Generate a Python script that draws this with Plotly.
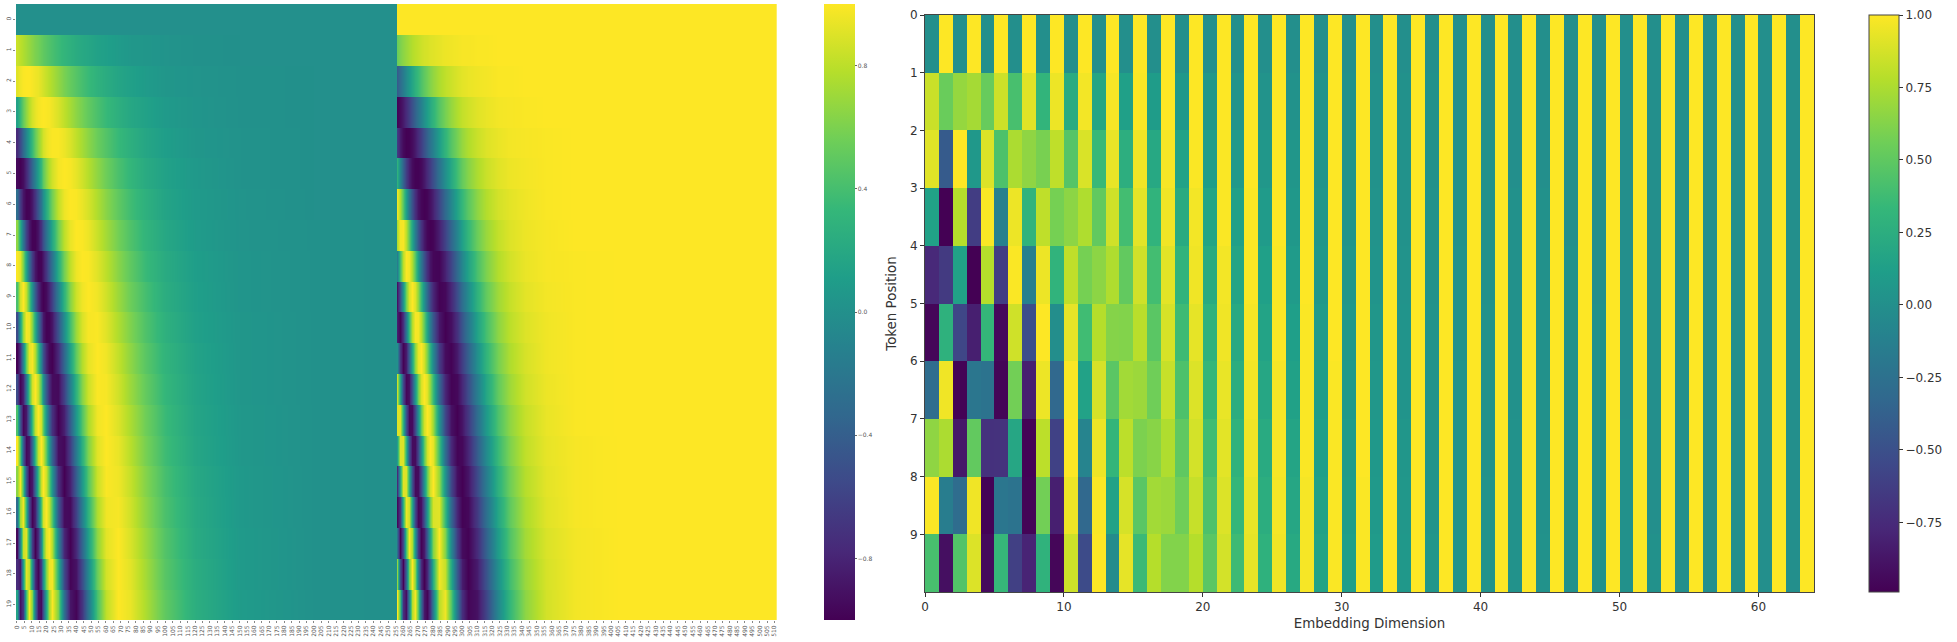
import plotly.graph_objects as go

W, H = 1957, 642

# ---------- left heatmap: values read at selected columns of each half ----------
KNOT_COLUMNS = [0,2,4,6,8,10,12,14,16,18,20,22,24,28,32,36,40,44,48,54,60,68,76,86,100,120,150,200,255]

SIN_00 = [0]*29
COS_00 = [1]*29
SIN_01 = [.84,.80,.76,.72,.68,.64,.60,.57,.53,.50,.47,.44,.41,.36,.31,.27,.23,.20,.18,.14,.12,.09,.06,.05,.03,.01,0,0,0]
COS_01 = [.54,.60,.65,.69,.73,.77,.80,.82,.85,.87,.88,.90,.91,.93,.95,.96,.97,.98,.98,.99,.99,1,1,1,1,1,1,1,1]
SIN_02 = [.91,.96,.99,1,1,.98,.96,.94,.90,.87,.83,.79,.75,.67,.59,.52,.46,.40,.35,.28,.23,.17,.13,.09,.05,.03,.01,0,0]
COS_02 = [-.42,-.29,-.16,-.04,.07,.17,.27,.35,.43,.50,.56,.62,.67,.75,.81,.85,.89,.92,.94,.96,.97,.99,.99,1,1,1,1,1,1]
SIN_03 = [.14,.34,.52,.66,.78,.87,.93,.97,.99,1,.99,.98,.95,.89,.81,.73,.65,.58,.51,.42,.34,.26,.19,.14,.08,.04,.01,0,0]
COS_03 = [-.99,-.94,-.86,-.75,-.63,-.50,-.37,-.24,-.12,0,.11,.21,.30,.46,.58,.68,.76,.82,.86,.91,.94,.97,.98,.99,1,1,1,1,1]
SIN_04 = [-.76,-.55,-.32,-.08,.14,.34,.52,.66,.78,.87,.93,.97,.99,.99,.95,.89,.81,.73,.65,.54,.45,.34,.26,.18,.11,.05,.02,0,0]
COS_04 = [-.65,-.84,-.95,-1,-.99,-.94,-.86,-.75,-.63,-.50,-.37,-.24,-.12,.11,.30,.46,.58,.68,.76,.84,.90,.94,.97,.98,.99,1,1,1,1]
SIN_05 = [-.96,-1,-.93,-.78,-.57,-.34,-.11,.12,.32,.50,.65,.77,.86,.97,1,.98,.93,.86,.78,.66,.55,.42,.32,.22,.14,.07,.02,0,0]
COS_05 = [.28,-.06,-.37,-.63,-.82,-.94,-.99,-.99,-.95,-.87,-.76,-.64,-.51,-.25,-.01,.20,.38,.52,.63,.75,.84,.91,.95,.97,.99,1,1,1,1]
SIN_06 = [-.28,-.64,-.88,-.99,-.98,-.87,-.69,-.46,-.23,0,.22,.41,.57,.81,.95,1,.99,.94,.88,.76,.64,.50,.38,.27,.16,.08,.03,0,0]
COS_06 = [.96,.76,.47,.12,-.21,-.50,-.73,-.89,-.97,-1,-.98,-.91,-.82,-.58,-.32,-.07,.15,.33,.48,.65,.77,.87,.92,.96,.99,1,1,1,1]
SIN_07 = [.66,.23,-.22,-.60,-.86,-.99,-.99,-.89,-.71,-.50,-.26,-.03,.19,.55,.80,.94,1,.99,.95,.84,.72,.57,.44,.31,.19,.09,.03,.01,0]
COS_07 = [.75,.97,.98,.80,.51,.17,-.16,-.46,-.70,-.87,-.97,-1,-.98,-.83,-.60,-.34,-.09,.13,.32,.54,.69,.82,.90,.95,.98,1,1,1,1]
SIN_08 = [.99,.92,.60,.16,-.28,-.64,-.88,-.99,-.98,-.87,-.69,-.46,-.23,.22,.57,.81,.95,1,.99,.91,.80,.64,.50,.35,.22,.11,.04,.01,0]
COS_08 = [-.15,.39,.80,.99,.96,.76,.47,.12,-.21,-.50,-.73,-.89,-.97,-.98,-.82,-.58,-.32,-.07,.15,.41,.60,.77,.87,.94,.98,.99,1,1,1]
SIN_09 = [.41,.87,1,.82,.45,0,-.43,-.75,-.94,-1,-.95,-.81,-.61,-.15,.29,.63,.85,.96,1,.96,.86,.70,.55,.40,.24,.12,.04,.01,0]
COS_09 = [-.91,-.49,.05,.57,.89,1,.90,.66,.34,0,-.32,-.59,-.79,-.99,-.96,-.78,-.53,-.27,-.03,.28,.51,.71,.83,.92,.97,.99,1,1,1]
SIN_10 = [-.54,.12,.68,.97,.94,.64,.21,-.24,-.61,-.87,-.99,-.98,-.88,-.49,-.02,.39,.70,.89,.98,.99,.91,.76,.61,.44,.27,.13,.05,.01,0]
COS_10 = [-.84,-.99,-.73,-.22,.35,.77,.98,.97,.79,.50,.16,-.18,-.47,-.87,-1,-.92,-.72,-.46,-.21,.14,.40,.65,.80,.90,.96,.99,1,1,1]
SIN_11 = [-1,-.73,-.10,.53,.92,.98,.76,.36,-.10,-.50,-.80,-.96,-1,-.77,-.33,.13,.51,.77,.93,1,.96,.82,.66,.48,.30,.15,.05,.01,0]
COS_11 = [0,-.68,-.99,-.85,-.39,.18,.65,.93,1,.86,.60,.27,-.07,-.64,-.94,-.99,-.86,-.63,-.38,-.01,.30,.58,.76,.88,.96,.99,1,1,1]
SIN_12 = [-.54,-.99,-.82,-.24,.41,.87,1,.82,.45,0,-.43,-.75,-.94,-.95,-.61,-.14,.29,.63,.85,.99,.98,.86,.70,.52,.32,.16,.05,.01,0]
COS_12 = [.84,.17,-.57,-.97,-.91,-.49,.06,.57,.89,1,.91,.66,.34,-.32,-.79,-.99,-.96,-.78,-.53,-.15,.18,.51,.71,.86,.95,.99,1,1,1]
SIN_13 = [.42,-.45,-.97,-.87,-.32,.34,.83,1,.86,.50,.05,-.38,-.72,-1,-.83,-.41,.06,.45,.74,.96,1,.90,.75,.56,.35,.17,.06,.01,0]
COS_13 = [.91,.89,.26,-.50,-.95,-.94,-.55,0,.52,.87,1,.92,.70,.04,-.57,-.91,-1,-.89,-.67,-.29,.07,.43,.66,.83,.94,.99,1,1,1]
SIN_14 = [.99,.45,-.43,-.96,-.88,-.34,.33,.82,1,.86,.51,.06,-.37,-.92,-.96,-.64,-.18,.26,.61,.91,1,.94,.79,.59,.37,.18,.06,.01,0]
COS_14 = [.14,.90,.90,.28,-.48,-.94,-.94,-.57,-.02,.50,.86,1,.93,.39,-.28,-.77,-.98,-.96,-.79,-.42,-.05,.35,.61,.81,.93,.98,1,1,1]
SIN_15 = [.65,.98,.41,-.46,-.97,-.87,-.31,.35,.84,1,.85,.49,.04,-.72,-1,-.82,-.40,.06,.46,.84,.99,.96,.83,.63,.40,.20,.07,.01,0]
COS_15 = [-.76,.18,.91,.89,.25,-.50,-.95,-.94,-.55,0,.52,.87,1,.69,.03,-.57,-.92,-1,-.89,-.55,-.16,.27,.56,.78,.92,.98,1,1,1]
SIN_16 = [-.29,.73,.96,.32,-.54,-.99,-.82,-.24,.41,.87,1,.82,.45,-.43,-.94,-.95,-.61,-.14,.29,.75,.96,.98,.86,.66,.42,.21,.07,.01,0]
COS_16 = [-.96,-.69,.28,.95,.84,.17,-.57,-.97,-.91,-.50,.06,.57,.89,.91,.34,-.33,-.79,-.99,-.96,-.66,-.27,.18,.51,.75,.91,.98,1,1,1]
SIN_17 = [-.96,-.11,.83,.91,.18,-.64,-1,-.75,-.13,.50,.91,.99,.77,-.07,-.79,-1,-.78,-.34,.12,.65,.92,1,.89,.70,.45,.22,.08,.01,0]
COS_17 = [-.27,-.99,-.55,.42,.98,.76,.04,-.66,-.99,-.86,-.41,.15,.63,1,.62,-.06,-.63,-.94,-.99,-.76,-.38,.10,.45,.72,.89,.97,1,1,1]
SIN_18 = [-.75,-.87,.12,.93,.80,0,-.77,-.99,-.64,.01,.61,.95,.97,.29,-.56,-.98,-.90,-.53,-.06,.53,.87,1,.92,.73,.47,.24,.08,.01,0]
COS_18 = [.66,-.51,-.99,-.36,.60,1,.64,-.12,-.77,-1,-.79,-.30,.26,.96,.83,.21,-.43,-.85,-1,-.85,-.49,.01,.39,.69,.88,.97,1,1,1]
SIN_19 = [.15,-.92,-.68,.38,.99,.64,-.22,-.88,-.95,-.50,.17,.73,.99,.61,-.27,-.88,-.98,-.69,-.23,.41,.81,1,.94,.76,.50,.25,.09,.01,0]
COS_19 = [.99,.39,-.73,-.92,-.11,.77,.97,.47,-.30,-.87,-.98,-.69,-.16,.79,.96,.47,-.20,-.73,-.97,-.91,-.59,-.07,.33,.65,.87,.97,1,1,1]

LEFT_SIN = [SIN_00,SIN_01,SIN_02,SIN_03,SIN_04,SIN_05,SIN_06,SIN_07,SIN_08,SIN_09,
            SIN_10,SIN_11,SIN_12,SIN_13,SIN_14,SIN_15,SIN_16,SIN_17,SIN_18,SIN_19]
LEFT_COS = [COS_00,COS_01,COS_02,COS_03,COS_04,COS_05,COS_06,COS_07,COS_08,COS_09,
            COS_10,COS_11,COS_12,COS_13,COS_14,COS_15,COS_16,COS_17,COS_18,COS_19]
for r in LEFT_SIN + LEFT_COS:
    assert len(r) == len(KNOT_COLUMNS), r

LEFT_X_TICKS = list(range(0, 511, 5))
LEFT_Y_TICKS = list(range(20))
LEFT_CB_TICKS = [-0.8, -0.4, 0.0, 0.4, 0.8]

# ---------- right heatmap ----------
TOKEN_0 = [0,1]*32
TOKEN_1 = [.84,.54,.68,.73,.53,.85,.41,.91,.31,.95,.23,.97,.18,.98,.13,.99,.10,1,.07,1,.06,1,.04,1,.03,1,.02,1,.02,1,.01,1,
           .01,1,.01,1,.01,1,0,1,0,1,0,1,0,1,0,1,0,1,0,1,0,1,0,1,0,1,0,1,0,1,0,1]
TOKEN_2 = [.91,-.42,1,.07,.90,.43,.75,.66,.59,.81,.46,.89,.35,.94,.26,.96,.20,.98,.15,.99,.11,.99,.08,1,.06,1,.05,1,.04,1,.03,1,
           .02,1,.02,1,.01,1,.01,1,.01,1,0,1,0,1,0,1,0,1,0,1,0,1,0,1,0,1,0,1,0,1,0,1]
TOKEN_3 = [.14,-.99,.78,-.63,.99,-.12,.95,.30,.81,.58,.65,.76,.51,.86,.39,.92,.30,.96,.22,.97,.17,.99,.13,.99,.09,1,.07,1,.05,1,.04,1,
           .03,1,.02,1,.02,1,.01,1,.01,1,.01,1,.01,1,0,1,0,1,0,1,0,1,0,1,0,1,0,1,0,1,0,1]
TOKEN_4 = [-.76,-.65,.14,-.99,.78,-.63,.99,-.12,.95,.30,.81,.58,.65,.76,.51,.86,.39,.92,.30,.96,.22,.97,.17,.99,.13,.99,.09,1,.07,1,.05,1,
           .04,1,.03,1,.02,1,.02,1,.01,1,.01,1,.01,1,.01,1,0,1,0,1,0,1,0,1,0,1,0,1,0,1,0,1]
TOKEN_5 = [-.96,.28,-.57,-.82,.33,-.95,.86,-.51,1,-.01,.93,.38,.78,.63,.62,.79,.48,.88,.37,.93,.28,.96,.21,.98,.16,.99,.12,.99,.09,1,.07,1,
           .05,1,.04,1,.03,1,.02,1,.02,1,.01,1,.01,1,.01,1,.01,1,0,1,0,1,0,1,0,1,0,1,0,1,0,1]
TOKEN_6 = [-.28,.96,-.98,-.21,-.23,-.97,.57,-.82,.95,-.32,.99,.15,.88,.48,.72,.70,.56,.83,.43,.90,.33,.94,.25,.97,.19,.98,.14,.99,.11,.99,.08,1,
           .06,1,.04,1,.03,1,.03,1,.02,1,.01,1,.01,1,.01,1,.01,1,0,1,0,1,0,1,0,1,0,1,0,1,0,1]
TOKEN_7 = [.66,.75,-.86,.51,-.71,-.70,.19,-.98,.80,-.60,1,-.09,.95,.32,.80,.60,.64,.76,.50,.87,.38,.92,.29,.96,.22,.98,.17,.99,.12,.99,.09,1,
           .07,1,.05,1,.04,1,.03,1,.02,1,.02,1,.01,1,.01,1,.01,1,.01,1,0,1,0,1,0,1,0,1,0,1,0,1]
TOKEN_8 = [.99,-.15,-.28,.96,-.98,-.21,-.23,-.97,.57,-.82,.95,-.32,.99,.15,.88,.48,.72,.70,.56,.83,.43,.90,.33,.94,.25,.97,.19,.98,.14,.99,.11,.99,
           .08,1,.06,1,.04,1,.03,1,.03,1,.02,1,.01,1,.01,1,.01,1,.01,1,0,1,0,1,0,1,0,1,0,1,0,1]
TOKEN_9 = [.41,-.91,.45,.90,-.94,.34,-.61,-.79,.29,-.96,.85,-.53,1,-.03,.93,.36,.78,.62,.62,.78,.48,.87,.37,.93,.28,.96,.21,.98,.16,.99,.12,.99,
           .09,1,.07,1,.05,1,.04,1,.03,1,.02,1,.02,1,.01,1,.01,1,.01,1,.01,1,0,1,0,1,0,1,0,1,0,1]
RIGHT_Z = [TOKEN_0,TOKEN_1,TOKEN_2,TOKEN_3,TOKEN_4,TOKEN_5,TOKEN_6,TOKEN_7,TOKEN_8,TOKEN_9]
for r in RIGHT_Z:
    assert len(r) == 64, r

RIGHT_X_TICKS = [0, 10, 20, 30, 40, 50, 60]
RIGHT_Y_TICKS = [0, 1, 2, 3, 4, 5, 6, 7, 8, 9]
RIGHT_CB_TICKS = [-0.75, -0.5, -0.25, 0.0, 0.25, 0.5, 0.75, 1.0]

# Left: each row keeps hard top/bottom edges; smoothing only acts along the columns
left_x = [c + 0.5 for c in KNOT_COLUMNS] + [c + 256.5 for c in KNOT_COLUMNS]
left_y, left_z = [], []
for i, (s, c) in enumerate(zip(LEFT_SIN, LEFT_COS)):
    left_y += [i + 0.01, i + 0.99]
    left_z += [s + c, s + c]

fig = go.Figure()
fig.add_trace(go.Heatmap(
    x=left_x, y=left_y, z=left_z, zmin=-1, zmax=1, zsmooth="best",
    colorscale="Viridis", xaxis="x", yaxis="y", hoverinfo="skip",
    colorbar=dict(
        x=824/W, xanchor="left", xpad=0, ypad=0,
        y=1-4/H, yanchor="top", lenmode="pixels", len=616,
        thickness=31, thicknessmode="pixels", outlinewidth=0,
        tickvals=LEFT_CB_TICKS, ticks="outside", ticklen=2, tickwidth=1,
        tickcolor="#666", tickfont=dict(size=6, color="#555", family="DejaVu Sans"),
        tickformat=".1f"),
))
fig.add_trace(go.Heatmap(
    x=[i + 0.5 for i in range(64)], y=[i + 0.5 for i in range(10)], z=RIGHT_Z,
    zmin=-0.99, zmax=1, colorscale="Viridis", xaxis="x2", yaxis="y2", hoverinfo="skip",
    colorbar=dict(
        x=1869/W, xanchor="left", xpad=0, ypad=0,
        y=1-15/H, yanchor="top", lenmode="pixels", len=577,
        thickness=30, thicknessmode="pixels", outlinecolor="#444", outlinewidth=1,
        tickvals=RIGHT_CB_TICKS, ticks="outside", ticklen=4, tickwidth=1,
        tickcolor="#333", tickfont=dict(size=12, color="#333", family="DejaVu Sans"),
        tickformat=".2f"),
))

fig.update_layout(
    width=W, height=H, autosize=False,
    margin=dict(l=0, r=0, t=0, b=0, autoexpand=False),
    paper_bgcolor="white", plot_bgcolor="white",
    font=dict(family="DejaVu Sans", color="#333"),
    xaxis=dict(domain=[16/W, 776.7/W], range=[0, 512], anchor="y",
               tickvals=[t + 0.5 for t in LEFT_X_TICKS], ticktext=[str(t) for t in LEFT_X_TICKS],
               tickangle=-90, tickfont=dict(size=6, color="#555"),
               ticks="outside", ticklen=2, tickwidth=1, tickcolor="#888",
               showgrid=False, zeroline=False, showline=False),
    yaxis=dict(domain=[1-620/H, 1-4/H], range=[20, 0], anchor="x",
               tickvals=[t + 0.5 for t in LEFT_Y_TICKS], ticktext=[str(t) for t in LEFT_Y_TICKS],
               tickangle=-90, tickfont=dict(size=6, color="#555"),
               ticks="outside", ticklen=2, tickwidth=1, tickcolor="#888",
               showgrid=False, zeroline=False, showline=False),
    xaxis2=dict(domain=[925/W, 1814/W], range=[0, 64], anchor="y2",
                tickvals=RIGHT_X_TICKS, tickfont=dict(size=12, color="#333"),
                ticks="outside", ticklen=4, tickwidth=1, tickcolor="#333",
                showgrid=False, zeroline=False, showline=True, linecolor="#444", linewidth=1, mirror=True,
                title=dict(text="Embedding Dimension", font=dict(size=13.4, color="#333"), standoff=5)),
    yaxis2=dict(domain=[1-592/H, 1-15/H], range=[10, 0], anchor="x2",
                tickvals=RIGHT_Y_TICKS, tickfont=dict(size=12, color="#333"),
                ticks="outside", ticklen=4, tickwidth=1, tickcolor="#333",
                showgrid=False, zeroline=False, showline=True, linecolor="#444", linewidth=1, mirror=True,
                title=dict(text="Token Position", font=dict(size=13.4, color="#333"), standoff=10)),
)

fig.write_html("out.html", config={"displayModeBar": False},
               post_script="document.body.style.margin='0';document.body.style.overflow='hidden';")
